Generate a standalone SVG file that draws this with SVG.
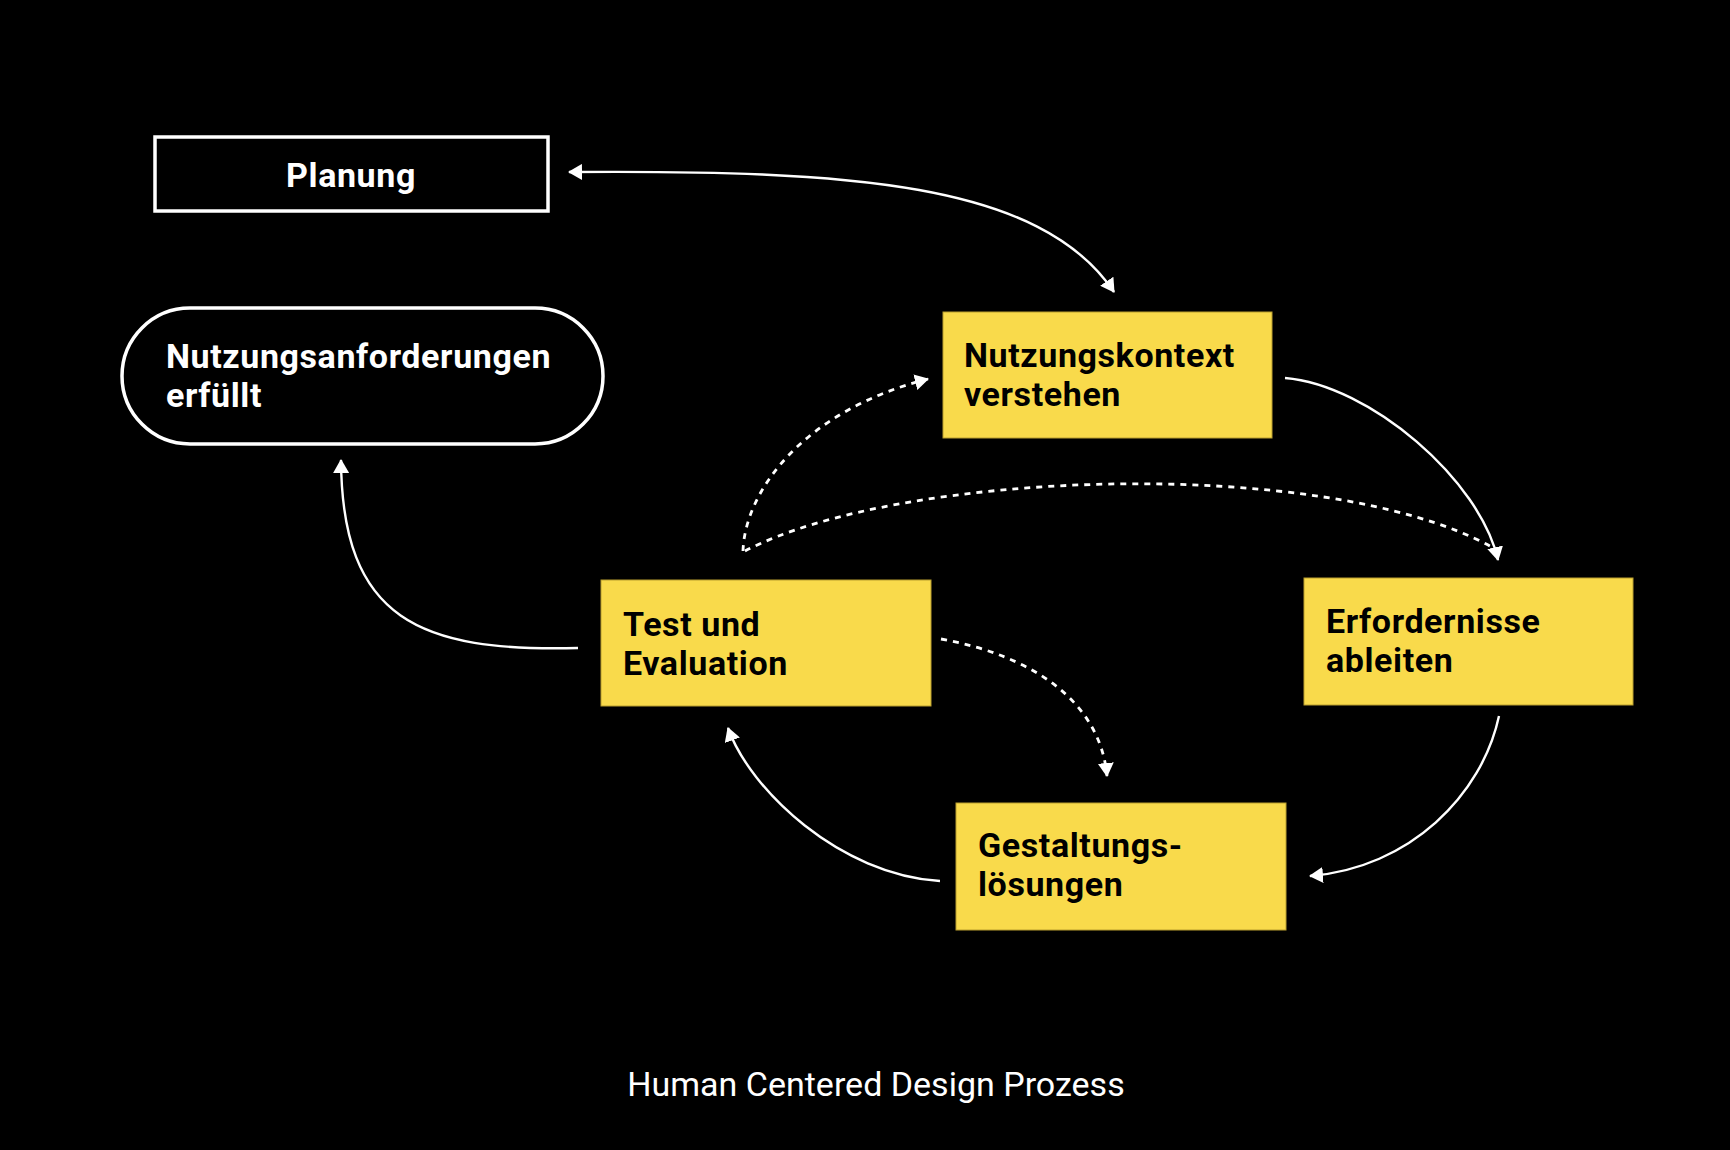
<svg xmlns="http://www.w3.org/2000/svg" width="1730" height="1150" viewBox="0 0 1730 1150">
<defs>
<style>
.lbl{font-family:Roboto,"Liberation Sans",sans-serif;font-weight:700;font-size:34px;letter-spacing:0.6px}
.box{fill:#F9DA4B;stroke:#B99E2E;stroke-width:1}
.w{fill:#FFFFFF}
.k{fill:#000000}
.con{fill:none;stroke:#FFFFFF;stroke-width:2.4}
.dot{fill:none;stroke:#FFFFFF;stroke-width:2.8;stroke-dasharray:6 6}
</style>
<marker id="ah" markerUnits="userSpaceOnUse" markerWidth="14" markerHeight="16" viewBox="0 0 14 16" refX="13" refY="8" orient="auto-start-reverse">
<path d="M0,0 L14,8 L0,16 z" fill="#FFFFFF"/>
</marker>
</defs>
<rect width="1730" height="1150" fill="#000000"/>

<g id="planung">
<rect x="155" y="137" width="393" height="74" fill="none" stroke="#FFFFFF" stroke-width="3.5"/>
<text class="lbl w" x="351" y="187" text-anchor="middle">Planung</text>
</g>

<g id="nutzungsanforderungen">
<rect x="122" y="308" width="481" height="136" rx="68" ry="68" fill="none" stroke="#FFFFFF" stroke-width="3.5"/>
<text class="lbl w" x="166" y="368">Nutzungsanforderungen</text>
<text class="lbl w" x="166" y="407">erfüllt</text>
</g>

<g id="nutzungskontext">
<rect class="box" x="943" y="312" width="329" height="126"/>
<text class="lbl k" x="964" y="367">Nutzungskontext</text>
<text class="lbl k" x="964" y="406">verstehen</text>
</g>

<g id="erfordernisse">
<rect class="box" x="1304" y="578" width="329" height="127"/>
<text class="lbl k" x="1326" y="633">Erfordernisse</text>
<text class="lbl k" x="1326" y="672">ableiten</text>
</g>

<g id="test">
<rect class="box" x="601" y="580" width="330" height="126"/>
<text class="lbl k" x="623" y="636">Test und</text>
<text class="lbl k" x="623" y="675">Evaluation</text>
</g>

<g id="gestaltung">
<rect class="box" x="956" y="803" width="330" height="127"/>
<text class="lbl k" x="978" y="857">Gestaltungs-</text>
<text class="lbl k" x="978" y="896">lösungen</text>
</g>

<g id="connectors">
<path class="con" d="M569,172 C850,170 1040,182 1114,292" marker-start="url(#ah)" marker-end="url(#ah)"/>
<path class="con" d="M1285,378 C1370,385 1480,480 1498,560" marker-end="url(#ah)"/>
<path class="con" d="M1499,716 C1482,795 1410,868 1310,876" marker-end="url(#ah)"/>
<path class="con" d="M940,881 C840,875 750,790 728,728" marker-end="url(#ah)"/>
<path class="con" d="M578,648 C420,652 342,620 341,460" marker-end="url(#ah)"/>
<path class="dot" d="M743,551 C745,490 805,410 928,379" marker-end="url(#ah)"/>
<path class="dot" d="M745,551 C900,470 1320,455 1490,546"/>
<path class="dot" d="M941,639 C1030,655 1100,700 1107,776" marker-end="url(#ah)"/>
</g>

<text x="876" y="1096" text-anchor="middle" font-family="Roboto,'Liberation Sans',sans-serif" font-size="34" fill="#FFFFFF">Human Centered Design Prozess</text>
</svg>
